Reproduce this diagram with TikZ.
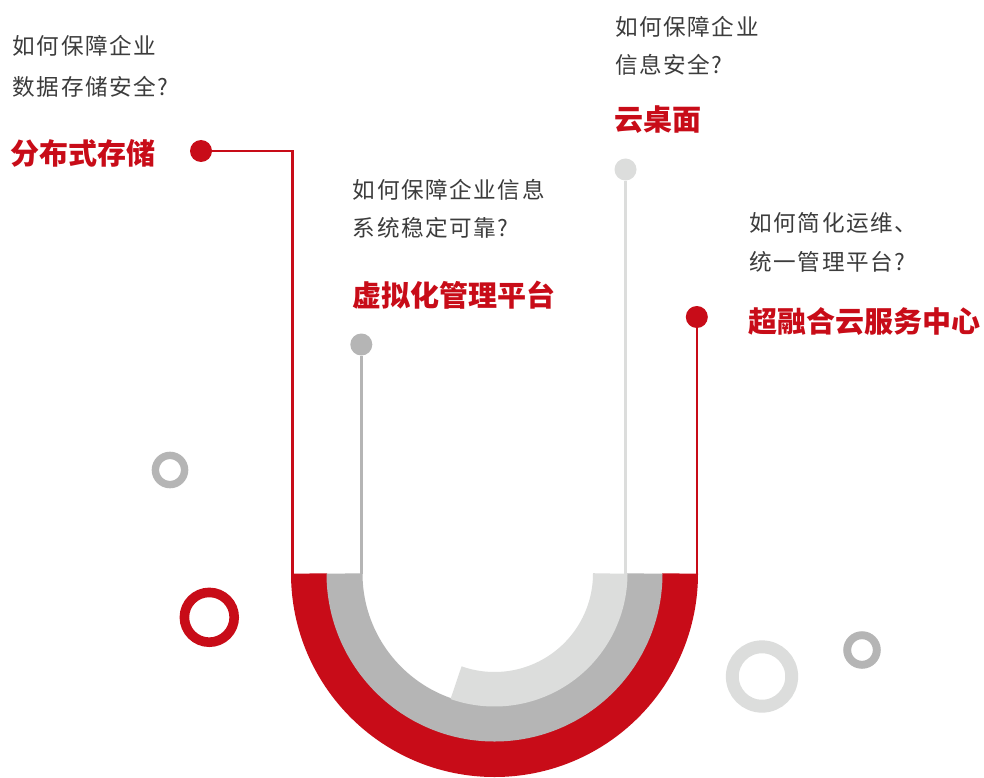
\documentclass[tikz,border=0pt]{standalone}
\usepackage{fontspec}
\newfontfamily\cjk{Noto Sans CJK SC}
\newfontfamily\cjkq[LetterSpace=7]{Noto Sans CJK SC}
\definecolor{myred}{HTML}{C80C18}
\definecolor{midgray}{HTML}{B5B5B5}
\definecolor{lightgray}{HTML}{DCDDDC}
\definecolor{textgray}{HTML}{3C3C3C}
\tikzset{
  qtext/.style={anchor=west, inner sep=0pt, text=textgray, font=\fontsize{22.6}{22.6}\selectfont\cjkq},
  ttext/.style={anchor=west, inner sep=0pt, text=myred, font=\fontsize{29}{29}\selectfont\cjk\bfseries},
  dot/.style={circle, inner sep=0pt, minimum size=22pt, fill=#1},
  conn/.style={draw=#1, line width=2.6pt},
  band/.style={draw=#1, line cap=butt},
  ring/.style={draw=#1}
}
\begin{document}
\begin{tikzpicture}[x=1pt, y=-1pt]
\useasboundingbox (0,0) rectangle (984,778);
\fill[white] (0,0) rectangle (984,778);
% U bands
\coordinate (c) at (494.5,573.5);
\draw[band=myred, line width=36pt] (c) ++(180:185.5) arc[start angle=180, end angle=0, radius=185.5];
\draw[band=midgray, line width=36pt] (c) ++(180:150) arc[start angle=180, end angle=0, radius=150];
\draw[band=lightgray, line width=34.5pt] (c) ++(0:115.75) arc[start angle=0, end angle=109.4, radius=115.75];
% band top coordinates
\coordinate (b1) at (292.7,573.5);
\coordinate (b2) at (361.3,573.5);
\coordinate (b3) at (625.5,573.5);
\coordinate (b4) at (696.8,573.5);
% dots
\node[dot=myred] (d1) at (201,151) {};
\node[dot=midgray] (d2) at (361.3,344.5) {};
\node[dot=lightgray] (d3) at (625.5,169.5) {};
\node[dot=myred] (d4) at (696.8,317) {};
% connectors
\draw[conn=myred] (d1) -| (b1);
\draw[conn=midgray] (d2) -- (b2);
\draw[conn=lightgray] (d3) -- (b3);
\draw[conn=myred] (d4) -- (b4);
% rings
\draw[ring=midgray, line width=7.4pt] (170,470) circle[radius=14.6];
\draw[ring=myred, line width=9.6pt] (209.3,617.3) circle[radius=24.9];
\draw[ring=lightgray, line width=12.9pt] (762,676.5) circle[radius=29.7];
\draw[ring=midgray, line width=7.9pt] (862,650) circle[radius=14.8];
% texts
\node[qtext] (q1a) at (12.5,46) {如何保障企业};
\node[qtext] (q1b) at (12.5,87) {数据存储安全?};
\node[ttext] (t1) at (10,153) {分布式存储};
\node[qtext] (q2a) at (352.7,190) {如何保障企业信息};
\node[qtext] (q2b) at (352.7,228) {系统稳定可靠?};
\node[ttext] (t2) at (352.5,295) {虚拟化管理平台};
\node[qtext] (q3a) at (615,26.5) {如何保障企业};
\node[qtext] (q3b) at (615,65) {信息安全?};
\node[ttext] (t3) at (614.5,120) {云桌面};
\node[qtext] (q4a) at (749.3,223) {如何简化运维、};
\node[qtext] (q4b) at (749.3,261.5) {统一管理平台?};
\node[ttext] (t4) at (748.3,321.5) {超融合云服务中心};
\end{tikzpicture}
\end{document}
